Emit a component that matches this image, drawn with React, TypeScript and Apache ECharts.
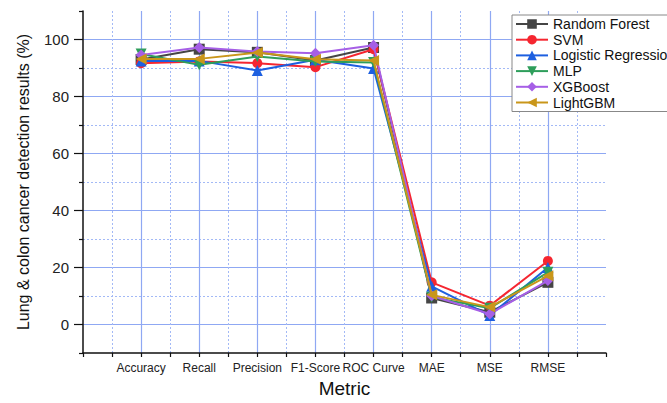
import React, { useEffect, useRef } from "react";
import * as echarts from "echarts";

const categories = ["Accuracy", "Recall", "Precision", "F1-Score", "ROC Curve", "MAE", "MSE", "RMSE"];
const seriesNames = ["Random Forest", "SVM", "Logistic Regression", "MLP", "XGBoost", "LightGBM"];
const randomForest = [93.0, 96.6, 95.5, 92.6, 97.2, 9.3, 4.3, 14.8];
const svm = [91.7, 92.3, 91.7, 90.3, 96.6, 14.8, 6.6, 22.3];
const logisticRegression = [92.5, 92.5, 89.1, 92.9, 89.8, 13.4, 3.2, 20.0];
const mlp = [94.9, 91.1, 94.0, 92.3, 91.9, 9.6, 5.7, 18.3];
const xgboost = [94.6, 97.2, 95.8, 95.2, 98.0, 10.1, 3.7, 15.4];
const lightgbm = [93.2, 93.2, 95.4, 93.1, 92.6, 10.4, 6.1, 17.1];
const yTickLabels = [0, 20, 40, 60, 80, 100];

const allValues = [randomForest, svm, logisticRegression, mlp, xgboost, lightgbm];
const colors = ["#454545", "#f52630", "#1d5fe0", "#2e9e5b", "#a65fe6", "#c9961a"];
const symbols = [
  "rect",
  "circle",
  "triangle",
  "path://M0,0 L10,0 L5,10 Z",
  "diamond",
  "path://M0,5 L10,0 L10,10 Z",
];

const FONT = "'Liberation Sans', Arial, sans-serif";
const SOLID = "#8fa8f3";
const DASH = "#a3b9f6";

export default function App() {
  const ref = useRef<HTMLDivElement>(null);
  useEffect(() => {
    if (!ref.current) return;
    const chart = echarts.init(ref.current, undefined, { renderer: "svg" });
    chart.setOption({
      animation: false,
      backgroundColor: "#ffffff",
      textStyle: { fontFamily: FONT },
      grid: { left: 83, right: 61, top: 11, bottom: 48, containLabel: false },
      legend: {
        orient: "vertical",
        left: 512,
        top: 15,
        padding: [2, 6, 2, 3],
        itemGap: 1.7,
        itemWidth: 32,
        itemHeight: 12,
        backgroundColor: "#ffffff",
        borderColor: "#888888",
        borderWidth: 1,
        borderRadius: 0,
        textStyle: { fontFamily: FONT, fontSize: 14, lineHeight: 12, color: "#111111" },
        data: seriesNames,
      },
      xAxis: {
        type: "value",
        min: 0,
        max: 9,
        interval: 1,
        name: "Metric",
        nameLocation: "middle",
        nameGap: 26,
        nameTextStyle: { fontFamily: FONT, fontSize: 19, color: "#111111" },
        axisLine: { show: true, onZero: false, lineStyle: { color: "#111111", width: 1.5 } },
        axisTick: { show: true, inside: false, length: 4, lineStyle: { color: "#111111", width: 1.2 } },
        minorTick: { show: true, splitNumber: 2, length: 4, lineStyle: { color: "#111111", width: 1.2 } },
        axisLabel: {
          fontFamily: FONT,
          fontSize: 12,
          color: "#222222",
          margin: 9,
          formatter: (v: number) => categories[Math.round(v) - 1] ?? "",
        },
        splitLine: { show: true, showMinLine: false, showMaxLine: false, lineStyle: { color: SOLID, width: 1.2 } },
        minorSplitLine: { show: true, lineStyle: { color: DASH, width: 1, type: [2, 2] } },
      },
      yAxis: [
        {
          type: "value",
          min: -10,
          max: 110,
          interval: 20,
          position: "left",
          axisLine: { show: true, onZero: false, lineStyle: { color: "#111111", width: 1.5 } },
          axisTick: { show: true, inside: false, length: 4, lineStyle: { color: "#111111", width: 1.2 } },
          minorTick: { show: true, splitNumber: 2, length: 9, lineStyle: { color: "#111111", width: 1.2 } },
          axisLabel: { show: false },
          splitLine: {
            show: true,
            showMinLine: false,
            showMaxLine: false,
            lineStyle: { color: DASH, width: 1, type: [2, 2] },
          },
          minorSplitLine: { show: true, lineStyle: { color: SOLID, width: 1.2 } },
        },
        {
          type: "value",
          min: -10,
          max: 110,
          interval: 10,
          position: "left",
          offset: 0,
          name: "Lung & colon cancer detection results (%)",
          nameLocation: "middle",
          nameGap: 52,
          nameTextStyle: { fontFamily: FONT, fontSize: 16, color: "#111111" },
          axisLine: { show: false },
          axisTick: { show: false },
          splitLine: { show: false },
          axisLabel: {
            fontFamily: FONT,
            fontSize: 15,
            color: "#222222",
            margin: 14,
            formatter: (v: number) => (yTickLabels.includes(Math.round(v)) ? String(Math.round(v)) : ""),
          },
        },
      ],
      series: seriesNames.map((name, k) => ({
        name,
        type: "line",
        xAxisIndex: 0,
        yAxisIndex: 0,
        data: allValues[k].map((v, i) => [i + 1, v]),
        symbol: symbols[k],
        symbolSize: k === 1 ? 10 : 11,
        showAllSymbol: true,
        lineStyle: { color: colors[k], width: 2 },
        itemStyle: { color: colors[k] },
        emphasis: { disabled: true },
        z: 2 + k,
      })),
    });
    return () => chart.dispose();
  }, []);
  return <div ref={ref} style={{ width: 667, height: 403, position: "absolute", left: 0, top: 0 }} />;
}
